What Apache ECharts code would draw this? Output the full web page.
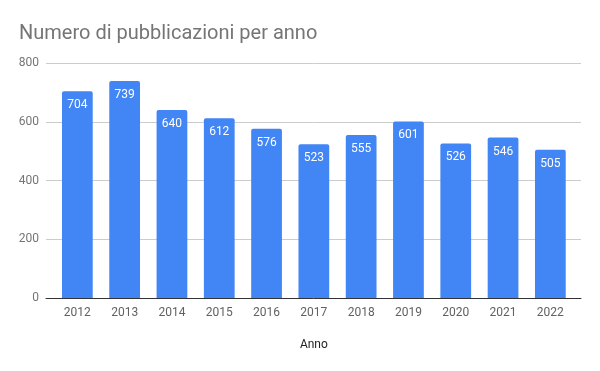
<!DOCTYPE html>
<html><head><meta charset="utf-8">
<script src="https://cdn.jsdelivr.net/npm/echarts@6/dist/echarts.min.js"></script>
<style>html,body{margin:0;padding:0;background:#fff}#c{width:600px;height:371px}</style>
</head><body><div id="c"></div>
<script>
var years = ['2012','2013','2014','2015','2016','2017','2018','2019','2020','2021','2022'];
var counts = [704, 739, 640, 612, 576, 523, 555, 601, 526, 546, 505];
var yTicks = [0, 200, 400, 600, 800];
var titleText = 'Numero di pubblicazioni per anno';
var xName = 'Anno';

var chart = echarts.init(document.getElementById('c'), null, {renderer: 'canvas'});
var font = 'Roboto, sans-serif';
chart.setOption({
  animation: false,
  title: {text: titleText, left: 14, top: 19,
    textStyle: {fontFamily: font, fontSize: 20, fontWeight: 'normal', color: '#757575'}},
  grid: [
    {left: 46, right: 19, top: 63, bottom: 73, containLabel: false},
    {left: 53.7, right: 26, top: 63, bottom: 73, containLabel: false}
  ],
  xAxis: [
    {gridIndex: 0, type: 'category', data: years, axisLine: {show: true, lineStyle: {color: '#333', width: 1}},
      axisTick: {show: false}, axisLabel: {show: false}, splitLine: {show: false}, z: 5},
    {gridIndex: 1, type: 'category', data: years, axisLine: {show: false}, axisTick: {show: false},
      axisLabel: {fontFamily: font, fontSize: 12, color: '#616161', margin: 9},
      name: xName, nameLocation: 'middle', nameGap: 41,
      nameTextStyle: {fontFamily: font, fontSize: 12, color: '#222'}}
  ],
  yAxis: [
    {gridIndex: 0, type: 'value', min: yTicks[0], max: yTicks[yTicks.length-1], interval: 200,
      axisLine: {show: false}, axisTick: {show: false},
      axisLabel: {fontFamily: font, fontSize: 12, color: '#757575', margin: 7},
      splitLine: {lineStyle: {color: '#cccccc', width: 1}}},
    {gridIndex: 1, type: 'value', min: yTicks[0], max: yTicks[yTicks.length-1], interval: 200,
      show: false, splitLine: {show: false}}
  ],
  series: [{
    type: 'bar', xAxisIndex: 1, yAxisIndex: 1, data: counts, barWidth: '65%',
    itemStyle: {color: '#4285F4', borderRadius: [2, 2, 0, 0]},
    label: {show: true, position: 'insideTop', distance: 8, color: '#ffffff',
      fontFamily: font, fontSize: 12}
  }]
});
</script></body></html>
